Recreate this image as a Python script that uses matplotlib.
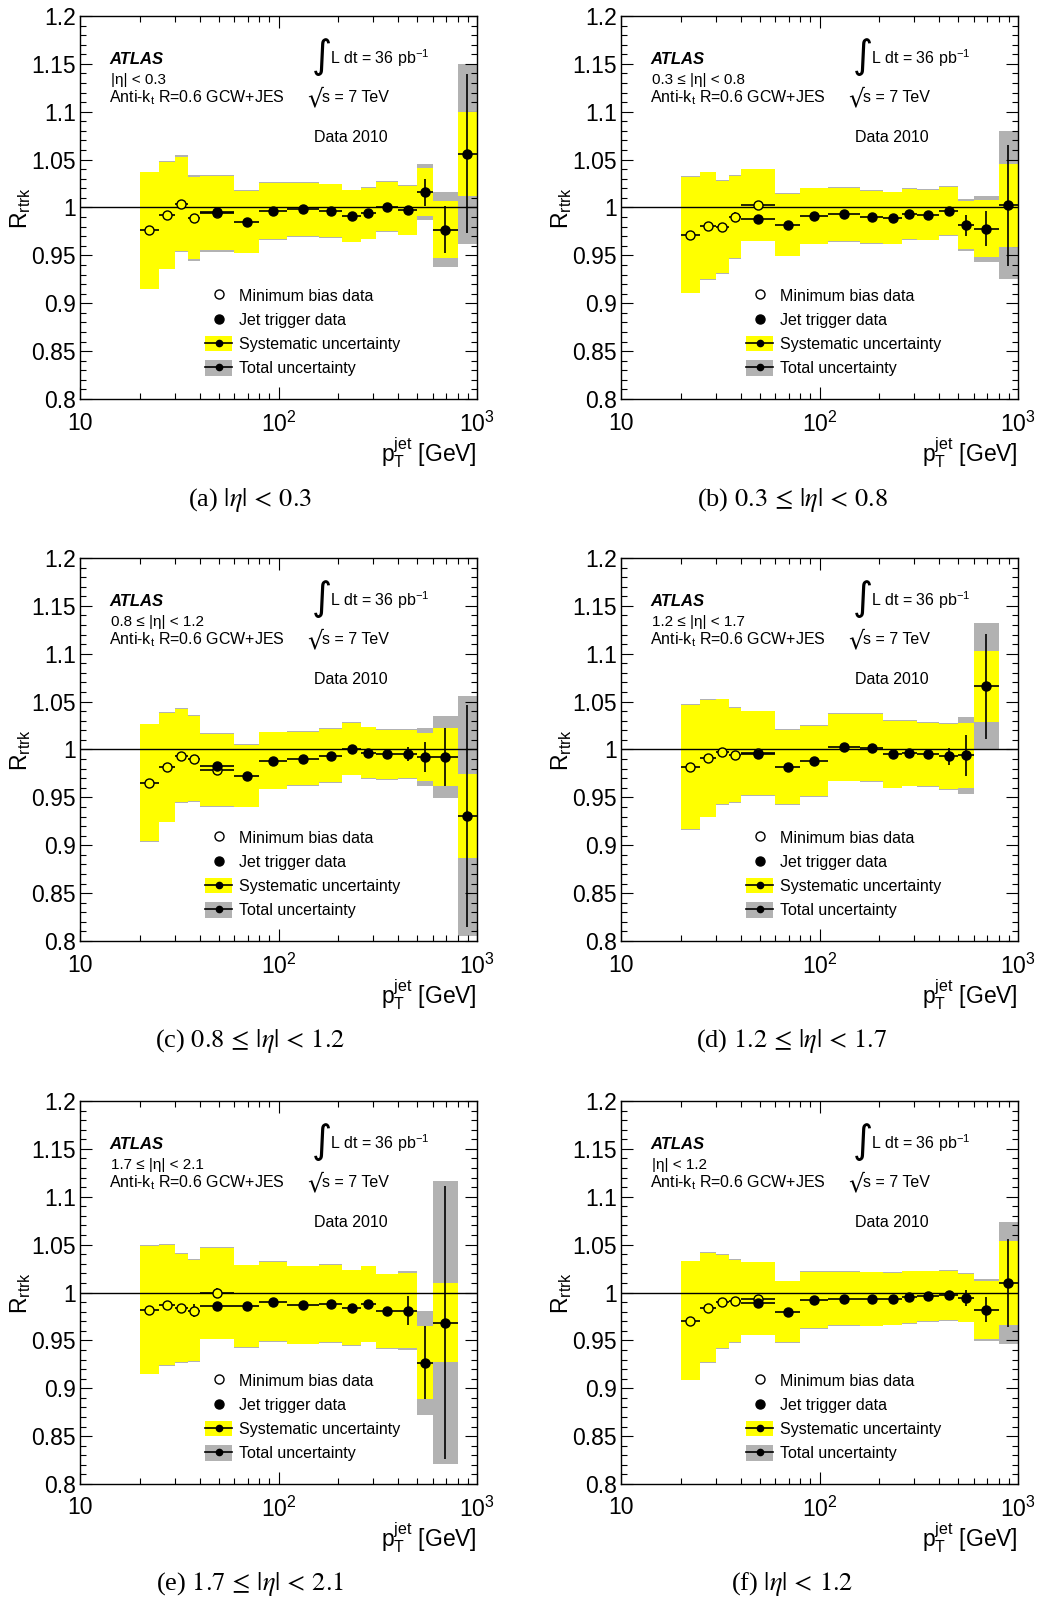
import numpy as np
import matplotlib
matplotlib.use('Agg')
import matplotlib.pyplot as plt
from matplotlib.lines import Line2D
from matplotlib.patches import Patch
from matplotlib.ticker import MultipleLocator, LogLocator, NullFormatter

plt.rcParams['font.family'] = ['Liberation Sans', 'DejaVu Sans']
plt.rcParams['mathtext.fontset'] = 'custom'
plt.rcParams['mathtext.rm'] = 'Liberation Sans'
plt.rcParams['mathtext.it'] = 'Liberation Sans:italic'
plt.rcParams['mathtext.bf'] = 'Liberation Sans:bold'

# jet pT bin edges [GeV]; first 5 bins are min bias, bins 4.. are jet trigger
edges = np.array([20, 25, 30, 35, 40, 60, 80, 110, 160, 210, 260, 310, 400, 500, 600, 800, 1000])
nan = np.nan

# (a) |eta| < 0.3
mb_a = [0.976, 0.992, 1.004, 0.989, 0.994]
mb_stat_a = [0.001, 0.001, 0.001, 0.003, 0.002]
jet_a = [0.9955, 0.985, 0.9965, 0.998, 0.9965, 0.991, 0.994, 1.001, 0.997, 1.016, 0.977, 1.056]
jet_stat_a = [0.002, 0.001, 0.001, 0.001, 0.001, 0.002, 0.002, 0.002, 0.004, 0.014, 0.025, 0.083]
syst_a = [0.061, 0.056, 0.049, 0.043, 0.0385, 0.0324, 0.0295, 0.028, 0.0277, 0.027, 0.0265, 0.026, 0.0255, 0.025, 0.030, 0.044]
tot_a = [0.0615, 0.0565, 0.0505, 0.0445, 0.040, 0.033, 0.030, 0.0285, 0.0285, 0.0275, 0.027, 0.027, 0.026, 0.029, 0.039, 0.094]

# (b) 0.3 <= |eta| < 0.8
mb_b = [0.9715, 0.981, 0.980, 0.990, 1.0025]
mb_stat_b = [0.001, 0.001, 0.001, 0.005, 0.002]
jet_b = [0.988, 0.982, 0.991, 0.9927, 0.990, 0.989, 0.9934, 0.9924, 0.9965, 0.9816, 0.978, 1.0024]
jet_stat_b = [0.002, 0.001, 0.001, 0.001, 0.001, 0.002, 0.002, 0.002, 0.003, 0.011, 0.0186, 0.063]
syst_b = [0.0605, 0.056, 0.048, 0.043, 0.0375, 0.0324, 0.029, 0.028, 0.0275, 0.027, 0.026, 0.026, 0.0252, 0.025, 0.030, 0.0435]
tot_b = [0.061, 0.0565, 0.049, 0.044, 0.038, 0.033, 0.0295, 0.0285, 0.028, 0.0275, 0.027, 0.0265, 0.026, 0.0275, 0.0345, 0.077]

# (c) 0.8 <= |eta| < 1.2
mb_c = [0.9654, 0.9815, 0.9934, 0.9906, 0.9787]
mb_stat_c = [0.001, 0.001, 0.001, 0.004, 0.002]
jet_c = [0.983, 0.9727, 0.9885, 0.9906, 0.9937, 1.0007, 0.9965, 0.9948, 0.9955, 0.992, 0.992, 0.9304]
jet_stat_c = [0.002, 0.001, 0.001, 0.001, 0.001, 0.002, 0.002, 0.003, 0.007, 0.016, 0.030, 0.116]
syst_c = [0.061, 0.057, 0.0486, 0.044, 0.038, 0.0323, 0.0295, 0.028, 0.0278, 0.027, 0.0265, 0.0258, 0.025, 0.025, 0.030, 0.0435]
tot_c = [0.0615, 0.0575, 0.0495, 0.045, 0.0385, 0.033, 0.030, 0.0285, 0.0285, 0.0275, 0.027, 0.0265, 0.0258, 0.030, 0.0425, 0.125]

# (d) 1.2 <= |eta| < 1.7
mb_d = [0.9818, 0.9909, 0.9976, 0.9944, 0.996]
mb_stat_d = [0.001, 0.001, 0.001, 0.003, 0.002]
jet_d = [0.995, 0.9818, 0.988, 1.0024, 1.002, 0.995, 0.996, 0.9948, 0.9927, 0.994, 1.066, nan]
jet_stat_d = [0.002, 0.001, 0.001, 0.001, 0.001, 0.002, 0.002, 0.002, 0.0087, 0.0215, 0.055, nan]
syst_d = [0.065, 0.061, 0.055, 0.049, 0.044, 0.039, 0.037, 0.035, 0.0354, 0.035, 0.034, 0.033, 0.034, 0.034, 0.037, nan]
tot_d = [0.0655, 0.0615, 0.0555, 0.050, 0.0445, 0.0395, 0.0375, 0.0355, 0.036, 0.0355, 0.0345, 0.0335, 0.035, 0.040, 0.066, nan]

# (e) 1.7 <= |eta| < 2.1
mb_e = [0.9819, 0.987, 0.984, 0.981, 0.9993]
mb_stat_e = [0.001, 0.001, 0.003, 0.007, 0.005]
jet_e = [0.986, 0.9857, 0.9906, 0.987, 0.9885, 0.984, 0.988, 0.9805, 0.981, 0.9265, 0.9686, nan]
jet_stat_e = [0.002, 0.001, 0.001, 0.001, 0.001, 0.002, 0.002, 0.003, 0.015, 0.038, 0.143, nan]
syst_e = [0.067, 0.063, 0.0566, 0.0527, 0.0475, 0.043, 0.0415, 0.0405, 0.0405, 0.039, 0.0395, 0.0385, 0.039, 0.038, 0.0415, nan]
tot_e = [0.0675, 0.0635, 0.0575, 0.0535, 0.048, 0.0435, 0.042, 0.041, 0.041, 0.0395, 0.040, 0.039, 0.041, 0.054, 0.148, nan]

# (f) |eta| < 1.2
mb_f = [0.9707, 0.9843, 0.9906, 0.991, 0.9937]
mb_stat_f = [0.001, 0.001, 0.001, 0.002, 0.002]
jet_f = [0.9889, 0.980, 0.992, 0.9937, 0.9934, 0.9934, 0.9951, 0.9962, 0.9969, 0.9944, 0.9819, 1.0098]
jet_stat_f = [0.001, 0.001, 0.001, 0.001, 0.001, 0.001, 0.001, 0.002, 0.003, 0.008, 0.013, 0.046]
syst_f = [0.062, 0.057, 0.049, 0.043, 0.038, 0.032, 0.0295, 0.028, 0.028, 0.027, 0.027, 0.026, 0.026, 0.025, 0.0305, 0.044]
tot_f = [0.0625, 0.0575, 0.0495, 0.044, 0.0385, 0.0325, 0.030, 0.0285, 0.0285, 0.0275, 0.0275, 0.0265, 0.0265, 0.0255, 0.0325, 0.064]

eta_labels = ['|η| < 0.3', '0.3 ≤ |η| < 0.8', '0.8 ≤ |η| < 1.2',
              '1.2 ≤ |η| < 1.7', '1.7 ≤ |η| < 2.1', '|η| < 1.2']
captions = [r'(a) $|\eta|\,<\,0.3$', r'(b) $0.3\,\leq\,|\eta|\,<\,0.8$', r'(c) $0.8\,\leq\,|\eta|\,<\,1.2$',
            r'(d) $1.2\,\leq\,|\eta|\,<\,1.7$', r'(e) $1.7\,\leq\,|\eta|\,<\,2.1$', r'(f) $|\eta|\,<\,1.2$']

panels = [
    (mb_a, mb_stat_a, jet_a, jet_stat_a, syst_a, tot_a),
    (mb_b, mb_stat_b, jet_b, jet_stat_b, syst_b, tot_b),
    (mb_c, mb_stat_c, jet_c, jet_stat_c, syst_c, tot_c),
    (mb_d, mb_stat_d, jet_d, jet_stat_d, syst_d, tot_d),
    (mb_e, mb_stat_e, jet_e, jet_stat_e, syst_e, tot_e),
    (mb_f, mb_stat_f, jet_f, jet_stat_f, syst_f, tot_f),
]

YELLOW = '#ffff00'
GREY = '#b2b2b2'

W, H = 1039, 1600
col_left = [80, 621]
row_top = [16, 558, 1101]
ax_w, ax_h = 397, 383
cap_x = [250, 792]
cap_y = [500, 1041, 1584]


def draw_panel(ax, mb, mb_stat, jet, jet_stat, syst, tot, eta_label):
    mb, mb_stat = np.array(mb), np.array(mb_stat)
    jet, jet_stat = np.array(jet), np.array(jet_stat)
    syst, tot = np.array(syst), np.array(tot)
    lo, hi = edges[:-1], edges[1:]
    xc = np.sqrt(lo * hi)
    centre = np.concatenate([mb, jet[1:]])
    ok = ~np.isnan(tot)

    ax.bar(lo[ok], 2 * tot[ok], bottom=centre[ok] - tot[ok], width=(hi - lo)[ok],
           align='edge', color=GREY, lw=0, zorder=1)
    ax.bar(lo[ok], 2 * syst[ok], bottom=centre[ok] - syst[ok], width=(hi - lo)[ok],
           align='edge', color=YELLOW, lw=0, zorder=2)
    ax.axhline(1.0, color='k', lw=1.0, zorder=3)

    xm, lm, hm = xc[:5], lo[:5], hi[:5]
    ax.errorbar(xm, mb, xerr=[xm - lm, hm - xm], yerr=mb_stat, fmt='o', ms=6.5,
                mfc=YELLOW, mec='k', mew=1.0, ecolor='k', elinewidth=1.2, capsize=0, zorder=4)
    xj, lj, hj = xc[4:], lo[4:], hi[4:]
    ax.errorbar(xj, jet, xerr=[xj - lj, hj - xj], yerr=jet_stat, fmt='o', ms=6.5,
                mfc='k', mec='k', ecolor='k', elinewidth=1.2, capsize=0, zorder=5)

    ax.set_xscale('log')
    ax.set_xlim(10, 1000)
    ax.set_ylim(0.8, 1.2)
    ax.set_yticks([0.8, 0.85, 0.9, 0.95, 1.0, 1.05, 1.1, 1.15, 1.2])
    ax.set_yticklabels(['0.8', '0.85', '0.9', '0.95', '1', '1.05', '1.1', '1.15', '1.2'])
    ax.yaxis.set_minor_locator(MultipleLocator(0.01))
    ax.set_xticks([10, 100, 1000])
    ax.set_xticklabels(['10', r'$\mathregular{10^{2}}$', r'$\mathregular{10^{3}}$'])
    ax.xaxis.set_minor_locator(LogLocator(base=10, subs=np.arange(2, 10)))
    ax.xaxis.set_minor_formatter(NullFormatter())
    ax.tick_params(which='both', direction='in', top=True, right=True, width=0.8)
    ax.tick_params(which='major', length=8.5, labelsize=16.5)
    ax.tick_params(axis='x', which='major', pad=9)
    ax.tick_params(axis='y', which='major', pad=3)
    ax.tick_params(which='minor', length=4.5)
    for s in ax.spines.values():
        s.set_linewidth(1.0)

    ax.text(-0.15, 0.5, r'$\mathregular{R_{rtrk}}$', transform=ax.transAxes, rotation=90,
            ha='center', va='center', fontsize=16.5)
    ax.text(1.0, -0.14, r'$\mathregular{p_{T}^{jet}}$ [GeV]', transform=ax.transAxes,
            ha='right', va='center', fontsize=16.5)

    tr = ax.transAxes
    ax.text(0.073, 0.875, 'ATLAS', transform=tr, fontsize=12, fontweight='bold',
            fontstyle='italic', va='baseline')
    ax.text(0.078, 0.823, eta_label, transform=tr, fontsize=11, va='baseline')
    ax.text(0.073, 0.775, r'Anti-k$_{\mathregular{t}}$ R=0.6 GCW+JES', transform=tr,
            fontsize=11.5, va='baseline')
    ax.text(0.584, 0.894, '∫', transform=tr, fontsize=28, va='center',
            family=['DejaVu Sans'])
    ax.text(0.63, 0.875, r'L dt = 36 pb$^{\mathregular{-1}}$', transform=tr,
            fontsize=11.5, va='baseline')
    ax.text(0.572, 0.783, '√', transform=tr, fontsize=18, va='center',
            family=['DejaVu Sans'])
    ax.text(0.609, 0.775, 's = 7 TeV', transform=tr, fontsize=11.5, va='baseline')
    ax.text(0.589, 0.672, 'Data 2010', transform=tr, fontsize=11.5, va='baseline')

    dot = dict(color='k', lw=1.2, marker='o', ms=4.5)
    handles = [
        Line2D([], [], ls='none', marker='o', ms=6.5, mfc='white', mec='k', mew=1.0),
        Line2D([], [], ls='none', marker='o', ms=6.5, mfc='k', mec='k'),
        (Patch(fc=YELLOW, ec='none'), Line2D([], [], **dot)),
        (Patch(fc=GREY, ec='none'), Line2D([], [], **dot)),
    ]
    labels = ['Minimum bias data', 'Jet trigger data', 'Systematic uncertainty', 'Total uncertainty']
    ax.legend(handles, labels, loc='upper left', bbox_to_anchor=(0.315, 0.29),
              frameon=False, fontsize=11.5, handlelength=1.7, handleheight=1.1,
              handletextpad=0.4, labelspacing=0.5, borderpad=0, borderaxespad=0)


fig = plt.figure(figsize=(W / 100, H / 100), dpi=100)
for i, data in enumerate(panels):
    r, c = divmod(i, 2)
    ax = fig.add_axes([col_left[c] / W, 1 - (row_top[r] + ax_h) / H, ax_w / W, ax_h / H])
    draw_panel(ax, *data, eta_labels[i])
    fig.text(cap_x[c] / W, 1 - cap_y[r] / H, captions[i], ha='center', va='center',
             fontsize=19, family=['Liberation Serif'], math_fontfamily='stix')

fig.savefig('out.png', dpi=100)
